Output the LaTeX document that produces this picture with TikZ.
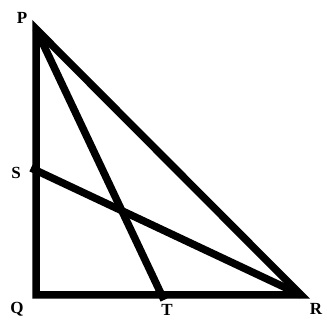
\documentclass[tikz,border=0pt]{standalone}
\usepackage{fontspec}
\setmainfont{Liberation Serif}
\begin{document}
\begin{tikzpicture}[x=1pt,y=-1pt,
  seg/.style={line width=7.5pt,line join=miter,line cap=butt},
  lbl/.style={font=\fontsize{17}{17}\selectfont\bfseries,inner sep=0pt}]
\useasboundingbox (0,0) rectangle (327,320);
\coordinate (P) at (36,29);
\coordinate (Q) at (36,295);
\coordinate (R) at (301,295);
\coordinate (S) at (36,170);
\coordinate (T) at (162,295);
\coordinate (Sx) at (31,168);
\coordinate (Tx) at (164,300);
\draw[seg] (P) -- (Q) -- (R) -- cycle;
\draw[seg] (P) -- (Tx);
\draw[seg] (Sx) -- (R);
\node[lbl] (lP) at (22,18) {P};
\node[lbl] (lQ) at (17,309) {Q};
\node[lbl] (lR) at (316,309) {R};
\node[lbl] (lS) at (16,173) {S};
\node[lbl] (lT) at (167,310) {T};
\end{tikzpicture}
\end{document}
